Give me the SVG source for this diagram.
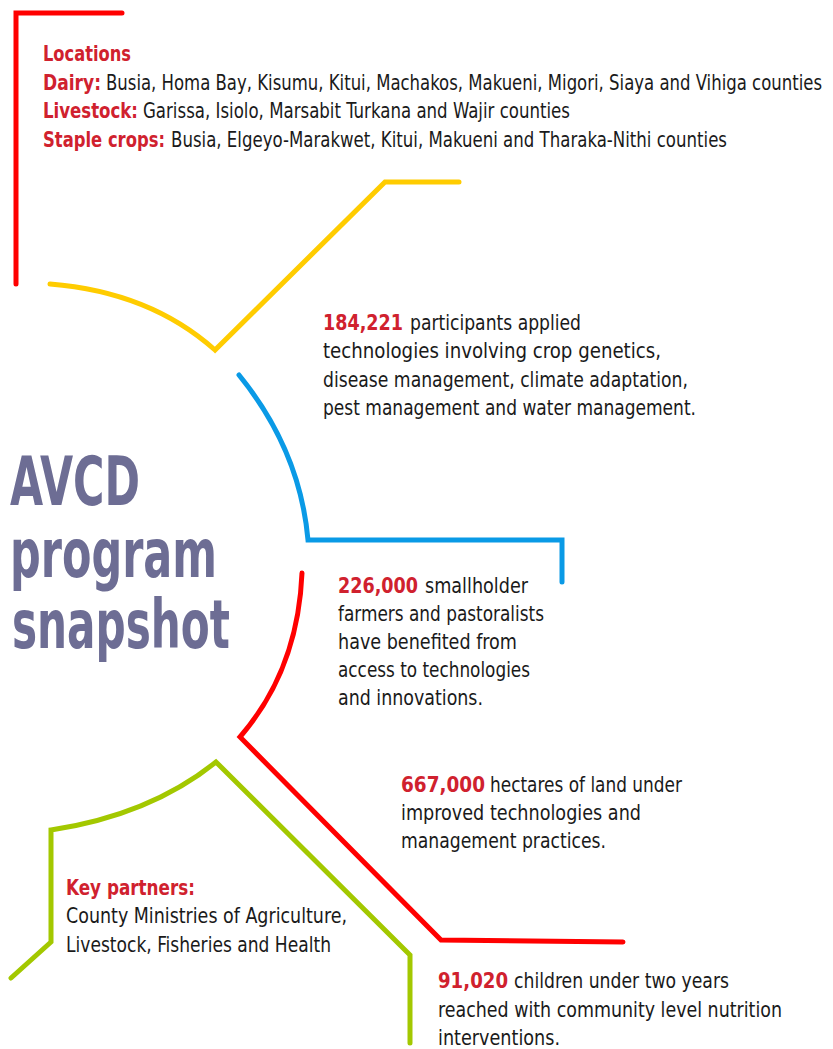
<svg xmlns="http://www.w3.org/2000/svg" width="833" height="1049" viewBox="0 0 833 1049">
<style>
.t{font-family:"Liberation Sans Narrow","DejaVu Sans Condensed","Noto Sans",sans-serif;font-size:21px;fill:#1a1a1a}
.r{font-weight:bold;fill:#d0212e}
.title{font-family:"Liberation Sans Narrow","DejaVu Sans Condensed","Noto Sans",sans-serif;font-weight:bold;font-size:67px;fill:#6d6d94}
.ln{fill:none;stroke-width:5;stroke-linecap:round;stroke-linejoin:miter}
</style>
<rect width="833" height="1049" fill="#ffffff"/>
<g id="connectors">
<path class="ln" stroke="#ff0000" d="M122,13 L16,13 L16,284"/>
<path class="ln" stroke="#ffcc00" d="M50,284 Q150,292 215,350 L385,182 L459,182"/>
<path class="ln" stroke="#0a9ae6" d="M239,375 Q300,450 308,540 L562,540 L562,582"/>
<path class="ln" stroke="#ff0000" d="M302,573 Q298,670 240,737 L441,940 L623,942"/>
<path class="ln" stroke="#a3c800" d="M11,978 L51,942 L51,830 Q150,815 216,762 L410,955 L410,1043"/>
</g>
<g id="title">
<text class="title" x="10" y="505" textLength="130" lengthAdjust="spacingAndGlyphs">AVCD</text>
<text class="title" x="10" y="577" textLength="207" lengthAdjust="spacingAndGlyphs">program</text>
<text class="title" x="12" y="648" textLength="218" lengthAdjust="spacingAndGlyphs">snapshot</text>
</g>
<g id="locations">
<text class="t r" x="43" y="61" textLength="88" lengthAdjust="spacingAndGlyphs">Locations</text>
<text class="t r" x="43" y="90" textLength="58" lengthAdjust="spacingAndGlyphs">Dairy:</text>
<text class="t" transform="translate(106,90) scale(0.8,1)" x="0" y="0" textLength="895" lengthAdjust="spacingAndGlyphs">Busia, Homa Bay, Kisumu, Kitui, Machakos, Makueni, Migori, Siaya and Vihiga counties</text>
<text class="t r" x="43" y="118" textLength="95" lengthAdjust="spacingAndGlyphs">Livestock:</text>
<text class="t" x="143" y="118" textLength="427" lengthAdjust="spacingAndGlyphs">Garissa, Isiolo, Marsabit Turkana and Wajir counties</text>
<text class="t r" x="43" y="147" textLength="122" lengthAdjust="spacingAndGlyphs">Staple crops:</text>
<text class="t" x="171" y="147" textLength="556" lengthAdjust="spacingAndGlyphs">Busia, Elgeyo-Marakwet, Kitui, Makueni and Tharaka-Nithi counties</text>
</g>
<g id="participants">
<text class="t r" x="323" y="330" textLength="80" lengthAdjust="spacingAndGlyphs">184,221</text>
<text class="t" x="410" y="330" textLength="171" lengthAdjust="spacingAndGlyphs">participants applied</text>
<text class="t" x="323" y="358" textLength="338" lengthAdjust="spacingAndGlyphs">technologies involving crop genetics,</text>
<text class="t" x="323" y="387" textLength="365" lengthAdjust="spacingAndGlyphs">disease management, climate adaptation,</text>
<text class="t" x="323" y="415" textLength="373" lengthAdjust="spacingAndGlyphs">pest management and water management.</text>
</g>
<g id="farmers">
<text class="t r" x="338" y="593" textLength="80" lengthAdjust="spacingAndGlyphs">226,000</text>
<text class="t" x="425" y="593" textLength="103" lengthAdjust="spacingAndGlyphs">smallholder</text>
<text class="t" x="338" y="621" textLength="206" lengthAdjust="spacingAndGlyphs">farmers and pastoralists</text>
<text class="t" x="338" y="649" textLength="179" lengthAdjust="spacingAndGlyphs">have benefited from</text>
<text class="t" x="338" y="677" textLength="192" lengthAdjust="spacingAndGlyphs">access to technologies</text>
<text class="t" x="338" y="705" textLength="145" lengthAdjust="spacingAndGlyphs">and innovations.</text>
</g>
<g id="hectares">
<text class="t r" x="401" y="792" textLength="84" lengthAdjust="spacingAndGlyphs">667,000</text>
<text class="t" x="490" y="792" textLength="192" lengthAdjust="spacingAndGlyphs">hectares of land under</text>
<text class="t" x="401" y="820" textLength="240" lengthAdjust="spacingAndGlyphs">improved technologies and</text>
<text class="t" x="401" y="848" textLength="205" lengthAdjust="spacingAndGlyphs">management practices.</text>
</g>
<g id="partners">
<text class="t r" x="66" y="895" textLength="129" lengthAdjust="spacingAndGlyphs">Key partners:</text>
<text class="t" x="66" y="923" textLength="281" lengthAdjust="spacingAndGlyphs">County Ministries of Agriculture,</text>
<text class="t" x="66" y="952" textLength="265" lengthAdjust="spacingAndGlyphs">Livestock, Fisheries and Health</text>
</g>
<g id="children">
<text class="t r" x="438" y="988" textLength="70" lengthAdjust="spacingAndGlyphs">91,020</text>
<text class="t" x="514" y="988" textLength="215" lengthAdjust="spacingAndGlyphs">children under two years</text>
<text class="t" x="438" y="1017" textLength="344" lengthAdjust="spacingAndGlyphs">reached with community level nutrition</text>
<text class="t" x="438" y="1045" textLength="122" lengthAdjust="spacingAndGlyphs">interventions.</text>
</g>
</svg>
